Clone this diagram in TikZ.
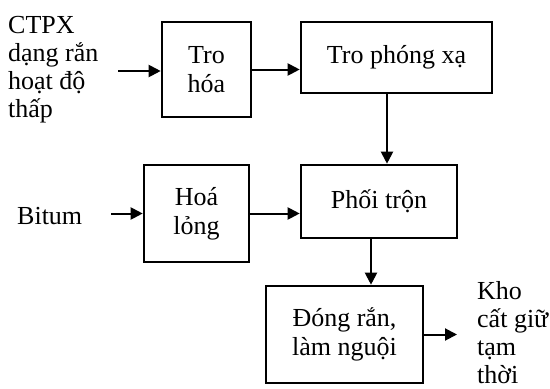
\documentclass[tikz,border=0pt]{standalone}
\usepackage{fontspec}
\setmainfont{Liberation Serif}
\usetikzlibrary{arrows.meta,positioning}
\tikzset{box node/.style={rectangle,draw,line width=2.6pt,inner sep=0pt,align=center,font=\fontsize{26}{29}\selectfont},
         side label/.style={rectangle,draw=none,fill=none,inner sep=0pt,align=left,font=\fontsize{26}{28}\selectfont},
         flow/.style={->,line width=2pt},
}
\begin{document}
\begin{tikzpicture}[x=1pt,y=-1pt,>={Triangle[length=12pt,width=12pt]}]
\useasboundingbox (0,0) rectangle (550,389);
% boxes
\node [box node,minimum width=89pt,minimum height=95pt] (1) at (206.5,69.5) {Tro\\hóa};
\node [box node,minimum width=191pt,minimum height=71pt] (2) at (396.5,57.5) {Tro phóng xạ};
\node [box node,minimum width=105pt,minimum height=97pt] (3) at (196.5,213.5) {Hoá\\lỏng};
\node [box node,minimum width=156pt,minimum height=73pt] (4) at (379,201.5) {Phối trộn};
\node [box node,minimum width=157pt,minimum height=97pt] (5) at (344.5,334.5) {Đóng rắn,\\làm nguội};
% outside texts
\node [side label,anchor=west] (6) at (8,70) {CTPX\\dạng rắn\\hoạt độ\\thấp};
\node [side label,anchor=west] (7) at (17,216) {Bitum};
\node [side label,anchor=west] (8) at (477,333) {Kho\\cất giữ\\tạm\\thời};
\coordinate (in1) at (118,71);
\coordinate (in2) at (111,213.5);
\coordinate (out) at (457,334.5);
% connectors
\draw[flow] (in1) -- (in1 -| 1.west);
\draw[flow] (1.east) -- (1.east -| 2.west);
\draw[flow] ([xshift=-9.5pt]2.south) -- ([xshift=-9.5pt]2.south |- 4.north);
\draw[flow] (in2) -- (in2 -| 3.west);
\draw[flow] (3.east) -- (3.east -| 4.west);
\draw[flow] ([xshift=-8pt]4.south) -- ([xshift=-8pt]4.south |- 5.north);
\draw[flow] (5.east) -- (out);
\end{tikzpicture}
\end{document}
